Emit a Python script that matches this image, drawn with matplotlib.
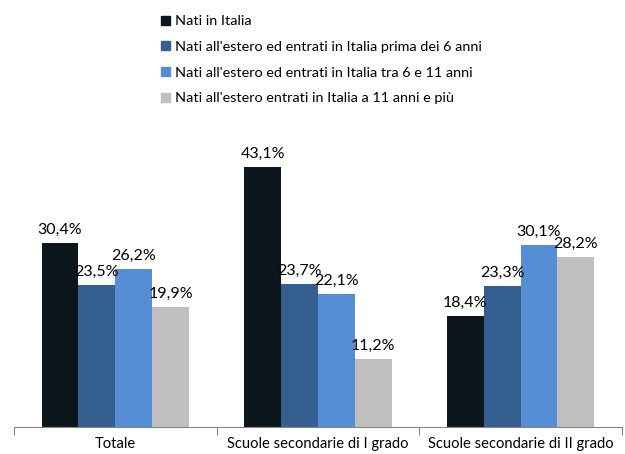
import numpy as np
import matplotlib.pyplot as plt
import matplotlib.patches as mpatches

plt.rcParams['font.family'] = ['Lato', 'DejaVu Sans']

categorie = ['Totale', 'Scuole secondarie di I grado', 'Scuole secondarie di II grado']
serie = ['Nati in Italia',
         "Nati all'estero ed entrati in Italia prima dei 6 anni",
         "Nati all'estero ed entrati in Italia tra 6 e 11 anni",
         "Nati all'estero entrati in Italia a 11 anni e più"]
nati_italia = [30.4, 43.1, 18.4]
prima_6 = [23.5, 23.7, 23.3]
tra_6_11 = [26.2, 22.1, 30.1]
dopo_11 = [19.9, 11.2, 28.2]
colori = ['#0b161d', '#355f91', '#558ed5', '#bfbfbf']

valori = [nati_italia, prima_6, tra_6_11, dopo_11]

fig = plt.figure(figsize=(6.25, 4.54), dpi=100)
ax = fig.add_axes([0.0224, 0.0595, 0.9726, 0.665])

x = np.arange(len(categorie))
w = 0.182
for i, (vals, col) in enumerate(zip(valori, colori)):
    pos = x + (i - 1.5) * w
    bars = ax.bar(pos, vals, width=w, color=col)
    for b, v in zip(bars, vals):
        ax.text(b.get_x() + b.get_width() / 2, v + 1.0, ('%.1f%%' % v).replace('.', ','),
                ha='center', va='bottom', fontsize=11.5, color='#000000')

ax.set_xlim(-0.5, 2.5)
ax.set_ylim(0, 50)
for s in ['top', 'right', 'left']:
    ax.spines[s].set_visible(False)
ax.spines['bottom'].set_color('#868686')
ax.set_yticks([])
ax.set_xticks([-0.5, 0.5, 1.5, 2.5], minor=False)
ax.set_xticklabels([])
ax.tick_params(axis='x', which='major', length=6, color='#868686')
ax.set_xticks(x, minor=True)
ax.set_xticklabels(categorie, minor=True, fontsize=10.6)
ax.tick_params(axis='x', which='minor', length=0, pad=7)

handles = [mpatches.Patch(color=c, label=l) for c, l in zip(colori, serie)]
fig.legend(handles=handles, loc='upper left', bbox_to_anchor=(0.237, 0.995), frameon=False,
           fontsize=10.4, handlelength=0.6, handleheight=0.6, handletextpad=0.35, labelspacing=0.95)

fig.savefig('out.png', dpi=100)
